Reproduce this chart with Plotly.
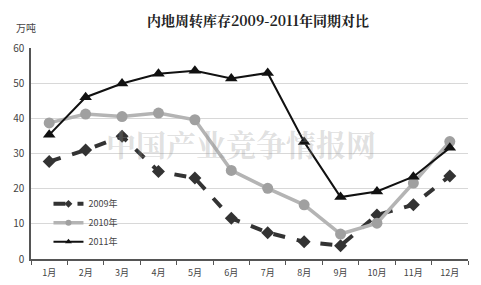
import plotly.graph_objects as go

months = ["1月", "2月", "3月", "4月", "5月", "6月", "7月", "8月", "9月", "10月", "11月", "12月"]
y2009 = [27.7, 31.0, 34.9, 24.9, 23.0, 11.6, 7.5, 4.9, 3.8, 12.5, 15.4, 23.6]
y2010 = [38.7, 41.2, 40.5, 41.5, 39.6, 25.2, 20.1, 15.4, 7.1, 10.2, 21.6, 33.4]
y2011 = [35.3, 46.0, 49.9, 52.7, 53.5, 51.3, 52.9, 33.3, 17.6, 19.2, 23.4, 31.6]
yticks = [0, 10, 20, 30, 40, 50, 60]

styles = [
    ("2009年", y2009, dict(color="#333333", width=4, dash="dash"), dict(symbol="diamond", size=10, color="#333333")),
    ("2010年", y2010, dict(color="#b4b4b4", width=3.5), dict(symbol="circle", size=11, color="#a0a0a0")),
    ("2011年", y2011, dict(color="#111111", width=2), dict(symbol="triangle-up", size=11, color="#111111")),
]

fig = go.Figure()
for name, ys, ln, mk in styles:
    fig.add_trace(go.Scatter(x=months, y=ys, name=name, mode="lines+markers",
                             line=ln, marker=mk, showlegend=False))
for name, ys, ln, mk in styles:
    small = dict(mk)
    small["size"] = 6
    fig.add_trace(go.Scatter(x=[None], y=[None], name=name, mode="lines+markers",
                             line=ln, marker=small, showlegend=True))

fig.update_layout(
    width=481, height=285,
    margin=dict(l=31, r=13, t=48, b=26),
    paper_bgcolor="white", plot_bgcolor="white",
    font=dict(family="Noto Sans CJK SC", size=10, color="#444444"),
    showlegend=True,
    legend=dict(x=0.04, y=0.33, xanchor="left", yanchor="top",
                bgcolor="rgba(0,0,0,0)", font=dict(size=9, color="#444444"),
                tracegroupgap=0, itemwidth=30),
    annotations=[
        dict(text="<b>内地周转库存2009-2011年同期对比</b>", xref="paper", yref="paper",
             x=0.52, y=1.0, yshift=28, xanchor="center", yanchor="middle", showarrow=False,
             font=dict(family="Noto Serif CJK SC, Noto Sans CJK SC", size=14, color="#222222")),
        dict(text="万吨", xref="paper", yref="paper", x=-0.04, y=1.0, yshift=21,
             xanchor="left", yanchor="middle", showarrow=False,
             font=dict(size=10, color="#444444")),
        dict(text="<b>中国产业竞争情报网</b>", xref="paper", yref="paper", x=0.48, y=0.55,
             xanchor="center", yanchor="middle", showarrow=False,
             font=dict(family="Noto Serif CJK SC, Noto Sans CJK SC", size=30, color="rgba(150,150,150,0.3)")),
    ],
)
fig.update_xaxes(type="category", range=[-0.5, 11.5], tickson="boundaries",
                 ticks="outside", ticklen=4, tickcolor="#555555", ticklabelstandoff=4,
                 automargin=False,
                 showline=True, linecolor="#555555", linewidth=1.5, showgrid=False,
                 tickfont=dict(size=9, color="#444444"))
fig.update_yaxes(range=[0, 60], tickvals=yticks, showline=True, linecolor="#555555",
                 linewidth=1.5, gridcolor="#d8d8d8", gridwidth=1, zeroline=False,
                 automargin=False,
                 ticklabelstandoff=3, tickfont=dict(size=10, color="#444444"))

fig.write_html("out.html")
